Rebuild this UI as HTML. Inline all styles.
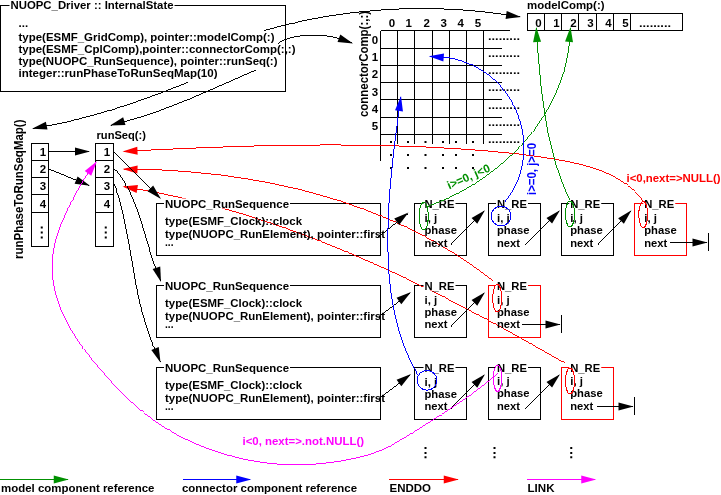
<!DOCTYPE html>
<html><head><meta charset="utf-8"><title>NUOPC Driver InternalState</title>
<style>
html,body{margin:0;padding:0;background:#fff;}
body{width:721px;height:495px;overflow:hidden;}
svg{display:block;will-change:transform;font-family:"Liberation Sans",sans-serif;font-weight:bold;font-size:11.5px;}
svg text{stroke:none;white-space:pre;}
</style></head><body>
<svg width="721" height="495" viewBox="0 0 721 495">
<rect x="0" y="0" width="721" height="495" fill="#fff" stroke="none"/>
<g stroke="#000" stroke-width="1">
<rect x="0.5" y="5.5" width="285" height="85.5" fill="none" stroke="#000" shape-rendering="crispEdges"/>
<rect x="9.5" y="-0.5" width="165" height="10" fill="#fff" stroke="none"/>
<text x="10.5" y="9" textLength="163" lengthAdjust="spacingAndGlyphs">NUOPC_Driver :: InternalState</text>
<text x="18.5" y="27">...</text>
<text x="18.5" y="41" textLength="256" lengthAdjust="spacingAndGlyphs">type(ESMF_GridComp), pointer::modelComp(:)</text>
<text x="18.5" y="53" textLength="277" lengthAdjust="spacingAndGlyphs">type(ESMF_CplComp),pointer::connectorComp(:,:)</text>
<text x="18.5" y="65" textLength="259" lengthAdjust="spacingAndGlyphs">type(NUOPC_RunSequence), pointer::runSeq(:)</text>
<text x="18.5" y="77" textLength="199" lengthAdjust="spacingAndGlyphs">integer::runPhaseToRunSeqMap(10)</text>
<line x1="380.5" y1="30.5" x2="380.5" y2="160.5" shape-rendering="crispEdges"/>
<line x1="397.5" y1="30.5" x2="397.5" y2="143.5" shape-rendering="crispEdges"/>
<line x1="414.5" y1="30.5" x2="414.5" y2="143.5" shape-rendering="crispEdges"/>
<line x1="432.5" y1="30.5" x2="432.5" y2="143.5" shape-rendering="crispEdges"/>
<line x1="449.5" y1="30.5" x2="449.5" y2="143.5" shape-rendering="crispEdges"/>
<line x1="466.5" y1="30.5" x2="466.5" y2="143.5" shape-rendering="crispEdges"/>
<line x1="483.5" y1="30.5" x2="483.5" y2="143.5" shape-rendering="crispEdges"/>
<line x1="380.5" y1="30.5" x2="510" y2="30.5" shape-rendering="crispEdges"/>
<line x1="380.5" y1="48.5" x2="502" y2="48.5" shape-rendering="crispEdges"/>
<line x1="380.5" y1="65.5" x2="502" y2="65.5" shape-rendering="crispEdges"/>
<line x1="380.5" y1="82.5" x2="502" y2="82.5" shape-rendering="crispEdges"/>
<line x1="380.5" y1="99.5" x2="502" y2="99.5" shape-rendering="crispEdges"/>
<line x1="380.5" y1="117.5" x2="502" y2="117.5" shape-rendering="crispEdges"/>
<line x1="380.5" y1="134.5" x2="502" y2="134.5" shape-rendering="crispEdges"/>
<text x="392" y="27" text-anchor="middle">0</text>
<text x="408.75" y="27" text-anchor="middle">1</text>
<text x="426.75" y="27" text-anchor="middle">2</text>
<text x="443.75" y="27" text-anchor="middle">3</text>
<text x="460.75" y="27" text-anchor="middle">4</text>
<text x="478" y="27" text-anchor="middle">5</text>
<text x="375" y="43.5" text-anchor="middle">0</text>
<text x="375" y="61" text-anchor="middle">1</text>
<text x="375" y="78" text-anchor="middle">2</text>
<text x="375" y="96" text-anchor="middle">3</text>
<text x="375" y="113" text-anchor="middle">4</text>
<text x="375" y="130" text-anchor="middle">5</text>
<text x="488" y="39.5" textLength="32" lengthAdjust="spacingAndGlyphs">.........</text>
<text x="488" y="56.5" textLength="32" lengthAdjust="spacingAndGlyphs">.........</text>
<text x="488" y="73.5" textLength="32" lengthAdjust="spacingAndGlyphs">.........</text>
<text x="488" y="90.5" textLength="32" lengthAdjust="spacingAndGlyphs">.........</text>
<text x="488" y="108.5" textLength="32" lengthAdjust="spacingAndGlyphs">.........</text>
<text x="488" y="126" textLength="32" lengthAdjust="spacingAndGlyphs">.........</text>
<text x="488" y="143" textLength="32" lengthAdjust="spacingAndGlyphs">.........</text>
<rect x="390" y="141" width="2" height="2" fill="#000" stroke="none"/>
<rect x="407" y="141" width="2" height="2" fill="#000" stroke="none"/>
<rect x="424.5" y="141" width="2" height="2" fill="#000" stroke="none"/>
<rect x="442" y="141" width="2" height="2" fill="#000" stroke="none"/>
<rect x="455" y="141" width="2" height="2" fill="#000" stroke="none"/>
<rect x="472" y="141" width="2" height="2" fill="#000" stroke="none"/>
<rect x="390" y="154" width="2" height="2" fill="#000" stroke="none"/>
<rect x="407" y="154" width="2" height="2" fill="#000" stroke="none"/>
<rect x="424.5" y="154" width="2" height="2" fill="#000" stroke="none"/>
<rect x="442" y="154" width="2" height="2" fill="#000" stroke="none"/>
<rect x="455" y="154" width="2" height="2" fill="#000" stroke="none"/>
<rect x="472" y="154" width="2" height="2" fill="#000" stroke="none"/>
<rect x="390" y="167" width="2" height="2" fill="#000" stroke="none"/>
<rect x="407" y="167" width="2" height="2" fill="#000" stroke="none"/>
<rect x="424.5" y="167" width="2" height="2" fill="#000" stroke="none"/>
<rect x="442" y="167" width="2" height="2" fill="#000" stroke="none"/>
<rect x="455" y="167" width="2" height="2" fill="#000" stroke="none"/>
<rect x="472" y="167" width="2" height="2" fill="#000" stroke="none"/>
<text x="368" y="117" textLength="106" lengthAdjust="spacingAndGlyphs" transform="rotate(-90 368 117)" font-size="12">connectorComp(:,:)</text>
<text x="527" y="9" textLength="77.5" lengthAdjust="spacingAndGlyphs">modelComp(:)</text>
<rect x="527.5" y="13.5" width="155" height="17" fill="none" stroke="#000" shape-rendering="crispEdges"/>
<line x1="544.5" y1="13.5" x2="544.5" y2="30.5" shape-rendering="crispEdges"/>
<line x1="561.5" y1="13.5" x2="561.5" y2="30.5" shape-rendering="crispEdges"/>
<line x1="578.5" y1="13.5" x2="578.5" y2="30.5" shape-rendering="crispEdges"/>
<line x1="596.5" y1="13.5" x2="596.5" y2="30.5" shape-rendering="crispEdges"/>
<line x1="613.5" y1="13.5" x2="613.5" y2="30.5" shape-rendering="crispEdges"/>
<line x1="630.5" y1="13.5" x2="630.5" y2="30.5" shape-rendering="crispEdges"/>
<text x="538.5" y="27" text-anchor="middle">0</text>
<text x="556.5" y="27" text-anchor="middle">1</text>
<text x="573.5" y="27" text-anchor="middle">2</text>
<text x="590.5" y="27" text-anchor="middle">3</text>
<text x="608.5" y="27" text-anchor="middle">4</text>
<text x="625.5" y="27" text-anchor="middle">5</text>
<text x="639" y="27" textLength="32" lengthAdjust="spacingAndGlyphs">.........</text>
<path d="M264.0 30.5L266.9 29.8L269.9 29.0L272.8 28.2L275.8 27.4L278.7 26.6L281.6 25.9L284.6 25.1L287.6 24.4L290.5 23.7L293.5 23.0L296.4 22.3L299.4 21.7L302.4 21.0L305.4 20.4L308.4 19.8L311.3 19.2L314.3 18.6L317.3 18.1L320.3 17.5L323.3 17.0L326.3 16.5L329.3 16.0L332.3 15.5L335.3 15.1L338.3 14.6L341.3 14.2L344.3 13.8L347.3 13.4L350.4 13.0L353.4 12.6L356.4 12.3L359.4 11.9L362.4 11.6L365.5 11.3L368.5 11.0L371.5 10.8L374.6 10.5L377.6 10.3L380.6 10.0L383.6 9.8L386.7 9.7L389.7 9.5L392.8 9.3L395.8 9.2L398.8 9.0L401.9 8.9L404.9 8.8L407.9 8.8L411.0 8.7L414.0 8.7L417.1 8.6L420.1 8.6L423.1 8.6L426.2 8.6L429.2 8.7L432.3 8.7L435.3 8.8L438.3 8.8L441.4 8.9L444.4 9.0L447.5 9.2L450.5 9.3L453.5 9.5L456.6 9.6L459.6 9.8L462.6 10.0L465.7 10.3L468.7 10.5L471.7 10.8L474.8 11.0L477.8 11.3L480.8 11.6L483.9 11.9L486.9 12.2L489.9 12.6L492.9 13.0L495.9 13.3L499.0 13.7L502.0 14.1L505.0 14.6L508.0 15.0L511.0 15.5L514.0 15.9L517.0 16.4L520.0 16.9" fill="none" stroke-width="0.99" shape-rendering="crispEdges"/>
<polygon points="521.00,17.00 505.59,18.90 506.69,10.98" fill="#000" stroke="none"/>
<path d="M277.5 43.5L280.3 41.8L283.2 40.5L286.2 39.3L289.2 38.2L292.2 37.4L295.4 36.6L298.5 36.1L301.7 35.6L304.9 35.3L308.1 35.1L311.4 35.0L314.6 35.0L317.8 35.1L321.1 35.3L324.3 35.6L327.5 36.1L330.7 36.6L333.8 37.2L336.9 37.9L340.0 38.7L343.1 39.7L346.1 40.7L349.1 41.8L352.1 43.2" fill="none" stroke-width="0.99" shape-rendering="crispEdges"/>
<polygon points="353.00,43.50 337.54,42.04 340.32,34.54" fill="#000" stroke="none"/>
<path d="M256.0 70.0L253.1 71.2L250.3 72.4L247.4 73.7L244.6 74.9L241.7 76.2L238.9 77.4L236.0 78.7L233.2 79.9L230.3 81.2L227.5 82.4L224.6 83.7L221.8 84.9L219.0 86.2L216.1 87.4L213.3 88.7L210.4 89.9L207.6 91.2L204.7 92.4L201.9 93.7L199.0 94.9L196.1 96.1L193.3 97.3L190.4 98.5L187.5 99.7L184.7 100.9L181.8 102.1L178.9 103.2L176.0 104.4L173.1 105.5L170.2 106.6L167.3 107.7L164.4 108.8L161.5 109.9L158.6 111.0L155.7 112.0L152.8 113.0L149.8 114.0L146.9 115.0L143.9 116.0L141.0 116.9L138.0 117.8L135.0 118.7L132.0 119.6L129.0 120.4L126.0 121.2L123.0 122.0L120.0 122.8L116.9 123.5L113.9 124.2L111.0 125.2" fill="none" stroke-width="0.99" shape-rendering="crispEdges"/>
<polygon points="110.00,125.50 123.15,117.25 125.51,124.89" fill="#000" stroke="none"/>
<path d="M187.5 82.5L184.6 83.6L181.7 84.8L178.8 85.9L175.9 87.1L173.0 88.2L170.2 89.3L167.3 90.5L164.4 91.6L161.4 92.7L158.5 93.8L155.6 94.9L152.7 95.9L149.8 97.0L146.9 98.0L143.9 99.1L141.0 100.1L138.1 101.1L135.1 102.2L132.2 103.2L129.3 104.1L126.3 105.1L123.4 106.1L120.4 107.0L117.4 108.0L114.5 108.9L111.5 109.8L108.5 110.7L105.6 111.6L102.6 112.5L99.6 113.3L96.6 114.2L93.6 115.0L90.6 115.8L87.6 116.7L84.6 117.4L81.6 118.2L78.6 119.0L75.6 119.7L72.6 120.4L69.5 121.2L66.5 121.8L63.5 122.5L60.5 123.2L57.4 123.8L54.4 124.5L51.3 125.1L48.3 125.7L45.2 126.2L42.1 126.8L39.1 127.3L36.0 127.9L33.0 128.5" fill="none" stroke-width="0.99" shape-rendering="crispEdges"/>
<polygon points="32.00,128.75 45.86,121.76 47.50,129.59" fill="#000" stroke="none"/>
<text x="22.5" y="259" textLength="139.5" lengthAdjust="spacingAndGlyphs" transform="rotate(-90 22.5 259)" font-size="12">runPhaseToRunSeqMap()</text>
<rect x="31.5" y="143.5" width="17" height="103" fill="none" stroke="#000" shape-rendering="crispEdges"/>
<line x1="31.5" y1="160.5" x2="48.5" y2="160.5" shape-rendering="crispEdges"/>
<line x1="31.5" y1="177.5" x2="48.5" y2="177.5" shape-rendering="crispEdges"/>
<line x1="31.5" y1="194.5" x2="48.5" y2="194.5" shape-rendering="crispEdges"/>
<line x1="31.5" y1="212.5" x2="48.5" y2="212.5" shape-rendering="crispEdges"/>
<text x="43.0" y="156" text-anchor="middle">1</text>
<text x="43.0" y="173" text-anchor="middle">2</text>
<text x="43.0" y="190" text-anchor="middle">3</text>
<text x="43.0" y="207.5" text-anchor="middle">4</text>
<rect x="40.75" y="226.5" width="2" height="2" fill="#000" stroke="none"/>
<rect x="40.75" y="231.5" width="2" height="2" fill="#000" stroke="none"/>
<rect x="40.75" y="236.5" width="2" height="2" fill="#000" stroke="none"/>
<rect x="95.5" y="143.5" width="18" height="103" fill="none" stroke="#000" shape-rendering="crispEdges"/>
<line x1="95.5" y1="160.5" x2="113.5" y2="160.5" shape-rendering="crispEdges"/>
<line x1="95.5" y1="177.5" x2="113.5" y2="177.5" shape-rendering="crispEdges"/>
<line x1="95.5" y1="194.5" x2="113.5" y2="194.5" shape-rendering="crispEdges"/>
<line x1="95.5" y1="212.5" x2="113.5" y2="212.5" shape-rendering="crispEdges"/>
<text x="107.0" y="156" text-anchor="middle">1</text>
<text x="107.0" y="173" text-anchor="middle">2</text>
<text x="107.0" y="190" text-anchor="middle">3</text>
<text x="107.0" y="207.5" text-anchor="middle">4</text>
<rect x="104.75" y="226.5" width="2" height="2" fill="#000" stroke="none"/>
<rect x="104.75" y="231.5" width="2" height="2" fill="#000" stroke="none"/>
<rect x="104.75" y="236.5" width="2" height="2" fill="#000" stroke="none"/>
<text x="96.5" y="139" textLength="49.5" lengthAdjust="spacingAndGlyphs">runSeq(:)</text>
<path d="M48.75 151.5L89.0 151.5" fill="none" stroke-width="0.99" shape-rendering="crispEdges"/>
<polygon points="90.00,151.50 75.00,155.50 75.00,147.50" fill="#000" stroke="none"/>
<path d="M48.75 169L89.07347224555177 185.37377357849678" fill="none" stroke-width="0.99" shape-rendering="crispEdges"/>
<polygon points="90.00,185.75 74.60,183.81 77.61,176.40" fill="#000" stroke="none"/>
<rect x="156.5" y="203.5" width="224" height="52" fill="none" stroke="#000" shape-rendering="crispEdges"/>
<rect x="414.5" y="203.5" width="52" height="52" fill="none" stroke="#000" shape-rendering="crispEdges"/>
<rect x="488.5" y="203.5" width="52" height="52" fill="none" stroke="#000" shape-rendering="crispEdges"/>
<rect x="561.5" y="203.5" width="52" height="52" fill="none" stroke="#000" shape-rendering="crispEdges"/>
<rect x="634.5" y="203.5" width="52" height="52" fill="none" stroke="#ff0000" shape-rendering="crispEdges"/>
<rect x="156.5" y="285.5" width="224" height="52" fill="none" stroke="#000" shape-rendering="crispEdges"/>
<rect x="414.5" y="285.5" width="52" height="52" fill="none" stroke="#000" shape-rendering="crispEdges"/>
<rect x="488.5" y="285.5" width="52" height="52" fill="none" stroke="#ff0000" shape-rendering="crispEdges"/>
<rect x="156.5" y="367.5" width="224" height="52" fill="none" stroke="#000" shape-rendering="crispEdges"/>
<rect x="414.5" y="367.5" width="52" height="52" fill="none" stroke="#000" shape-rendering="crispEdges"/>
<rect x="488.5" y="367.5" width="52" height="52" fill="none" stroke="#000" shape-rendering="crispEdges"/>
<rect x="561.5" y="367.5" width="52" height="52" fill="none" stroke="#ff0000" shape-rendering="crispEdges"/>
<path d="M642.5 201.5L641.1 198.4L639.0 196.0L636.9 193.7L634.8 191.6L632.5 189.5L630.2 187.5L627.9 185.6L625.5 183.9L623.1 182.2L620.6 180.5L618.1 179.0L615.6 177.5L613.0 176.1L610.4 174.8L607.7 173.6L605.0 172.4L602.2 171.3L599.5 170.2L596.7 169.2L593.9 168.2L591.0 167.3L588.2 166.5L585.3 165.7L582.4 164.9L579.4 164.2L576.5 163.5L573.6 162.8L570.6 162.2L567.6 161.6L564.6 161.0L561.7 160.4L558.7 159.9L555.7 159.3L552.7 158.8L549.7 158.3L546.7 157.9L543.7 157.4L540.7 156.9L537.7 156.5L534.6 156.1L531.6 155.7L528.6 155.3L525.6 154.9L522.6 154.5L519.6 154.2L516.5 153.8L513.5 153.5L510.5 153.2L507.5 152.9L504.5 152.5L501.4 152.2L498.4 152.0L495.4 151.7L492.3 151.4L489.3 151.1L486.3 150.9L483.3 150.6L480.2 150.4L477.2 150.2L474.2 149.9L471.2 149.7L468.1 149.5L465.1 149.3L462.1 149.1L459.0 148.9L456.0 148.7L453.0 148.5L450.0 148.3L446.9 148.1L443.9 148.0L440.9 147.8L437.9 147.6L434.9 147.5L431.8 147.3L428.8 147.2L425.8 147.0L422.8 146.9L419.7 146.7L416.7 146.6L413.7 146.5L410.7 146.4L407.6 146.3L404.6 146.2L401.6 146.1L398.6 146.0L395.6 145.9L392.5 145.8L389.5 145.7L386.5 145.6L383.5 145.5L380.5 145.5L377.4 145.4L374.4 145.3L371.4 145.3L368.4 145.2L365.4 145.2L362.3 145.1L359.3 145.1L356.3 145.1L353.3 145.0L350.3 145.0L347.2 145.0L344.2 145.0L341.2 145.0L338.2 144.9L335.2 144.9L332.1 144.9L329.1 144.9L326.1 144.9L323.1 144.9L320.1 145.0L317.0 145.0L314.0 145.0L311.0 145.0L308.0 145.0L305.0 145.1L301.9 145.1L298.9 145.1L295.9 145.2L292.9 145.2L289.9 145.3L286.8 145.3L283.8 145.4L280.8 145.4L277.8 145.5L274.8 145.5L271.7 145.6L268.7 145.7L265.7 145.7L262.7 145.8L259.7 145.9L256.6 145.9L253.6 146.0L250.6 146.1L247.6 146.2L244.5 146.3L241.5 146.4L238.5 146.5L235.5 146.6L232.5 146.7L229.4 146.8L226.4 146.9L223.4 147.0L220.4 147.1L217.3 147.2L214.3 147.3L211.3 147.4L208.3 147.5L205.2 147.6L202.2 147.8L199.2 147.9L196.2 148.0L193.1 148.1L190.1 148.3L187.1 148.4L184.0 148.5L181.0 148.6L178.0 148.8L175.0 148.9L171.9 149.1L168.9 149.2L165.9 149.3L162.8 149.5L159.8 149.6L156.8 149.8L153.8 149.9L150.7 150.0L147.7 150.2L144.7 150.3L141.6 150.5L138.6 150.6L135.6 150.8L132.5 150.9L129.5 151.1L126.5 151.3L123.5 151.4" fill="none" stroke="#ff0000" stroke-width="0.99" shape-rendering="crispEdges"/>
<polygon points="122.50,151.50 137.27,146.72 137.69,154.71" fill="#ff0000" stroke="none"/>
<path d="M492.5 280.5L490.1 278.6L487.7 276.7L485.3 274.9L482.8 273.0L480.3 271.2L477.9 269.4L475.4 267.7L472.9 265.9L470.4 264.2L467.8 262.4L465.3 260.7L462.8 259.0L460.2 257.4L457.7 255.7L455.1 254.1L452.5 252.5L449.9 250.9L447.3 249.3L444.7 247.8L442.1 246.2L439.5 244.7L436.8 243.2L434.2 241.7L431.5 240.2L428.9 238.8L426.2 237.3L423.5 235.9L420.8 234.5L418.1 233.1L415.4 231.7L412.7 230.4L410.0 229.0L407.2 227.7L404.5 226.4L401.7 225.1L399.0 223.9L396.2 222.6L393.5 221.4L390.7 220.2L387.9 219.0L385.1 217.8L382.3 216.6L379.5 215.4L376.7 214.3L373.9 213.2L371.0 212.1L368.2 211.0L365.4 209.9L362.5 208.8L359.7 207.8L356.8 206.8L353.9 205.8L351.1 204.8L348.2 203.8L345.3 202.8L342.4 201.9L339.5 200.9L336.6 200.0L333.7 199.1L330.8 198.2L327.9 197.3L325.0 196.5L322.1 195.6L319.1 194.8L316.2 194.0L313.3 193.2L310.3 192.4L307.4 191.6L304.4 190.8L301.5 190.1L298.5 189.4L295.5 188.6L292.6 187.9L289.6 187.3L286.6 186.6L283.6 185.9L280.7 185.3L277.7 184.6L274.7 184.0L271.7 183.4L268.7 182.8L265.7 182.2L262.7 181.7L259.7 181.1L256.7 180.6L253.7 180.1L250.7 179.5L247.7 179.0L244.7 178.6L241.6 178.1L238.6 177.6L235.6 177.2L232.6 176.7L229.6 176.3L226.5 175.9L223.5 175.5L220.5 175.1L217.5 174.7L214.4 174.4L211.4 174.0L208.4 173.7L205.3 173.4L202.3 173.1L199.3 172.8L196.2 172.5L193.2 172.2L190.2 171.9L187.1 171.7L184.1 171.4L181.1 171.2L178.0 171.0L175.0 170.8L172.0 170.6L168.9 170.4L165.9 170.2L162.9 170.1L159.9 169.9L156.8 169.8L153.8 169.7L150.8 169.5L147.7 169.4L144.7 169.3L141.7 169.2L138.7 169.2L135.7 169.1L132.6 169.1L129.6 169.0L126.6 169.0L123.5 169.0" fill="none" stroke="#ff0000" stroke-width="0.99" shape-rendering="crispEdges"/>
<polygon points="122.50,169.00 137.63,165.52 137.35,173.52" fill="#ff0000" stroke="none"/>
<path d="M565.0 362.5L562.0 361.5L559.4 360.0L556.8 358.5L554.2 357.0L551.6 355.5L548.9 354.0L546.3 352.5L543.7 351.0L541.1 349.6L538.4 348.1L535.8 346.6L533.2 345.1L530.5 343.6L527.9 342.1L525.3 340.7L522.6 339.2L520.0 337.7L517.3 336.3L514.7 334.8L512.1 333.3L509.4 331.9L506.8 330.4L504.1 329.0L501.5 327.5L498.8 326.1L496.1 324.6L493.5 323.2L490.8 321.7L488.1 320.3L485.5 318.9L482.8 317.4L480.1 316.0L477.5 314.6L474.8 313.2L472.1 311.8L469.4 310.4L466.8 309.0L464.1 307.5L461.4 306.2L458.7 304.8L456.0 303.4L453.3 302.0L450.6 300.6L447.9 299.2L445.2 297.8L442.5 296.5L439.8 295.1L437.1 293.8L434.4 292.4L431.7 291.0L429.0 289.7L426.3 288.4L423.6 287.0L420.8 285.7L418.1 284.4L415.4 283.0L412.7 281.7L409.9 280.4L407.2 279.1L404.5 277.8L401.7 276.5L399.0 275.2L396.3 273.9L393.5 272.7L390.8 271.4L388.0 270.1L385.3 268.9L382.5 267.6L379.8 266.4L377.0 265.1L374.2 263.9L371.5 262.6L368.7 261.4L365.9 260.2L363.2 259.0L360.4 257.8L357.6 256.6L354.8 255.4L352.1 254.2L349.3 253.0L346.5 251.8L343.7 250.7L340.9 249.5L338.1 248.4L335.3 247.2L332.5 246.1L329.7 245.0L326.9 243.8L324.1 242.7L321.3 241.6L318.5 240.5L315.7 239.4L312.9 238.3L310.0 237.2L307.2 236.2L304.4 235.1L301.6 234.0L298.7 233.0L295.9 232.0L293.0 230.9L290.2 229.9L287.4 228.9L284.5 227.9L281.7 226.9L278.8 225.9L276.0 224.9L273.1 223.9L270.2 222.9L267.4 222.0L264.5 221.0L261.6 220.1L258.8 219.2L255.9 218.2L253.0 217.3L250.1 216.4L247.3 215.5L244.4 214.6L241.5 213.8L238.6 212.9L235.7 212.0L232.8 211.2L229.9 210.3L227.0 209.5L224.1 208.7L221.2 207.9L218.2 207.1L215.3 206.3L212.4 205.5L209.5 204.7L206.6 203.9L203.6 203.2L200.7 202.5L197.8 201.7L194.8 201.0L191.9 200.3L188.9 199.6L186.0 198.9L183.0 198.2L180.1 197.5L177.1 196.9L174.1 196.2L171.2 195.6L168.2 195.0L165.2 194.3L162.3 193.7L159.3 193.1L156.3 192.6L153.3 192.0L150.3 191.4L147.3 190.9L144.3 190.3L141.3 189.8L138.3 189.3L135.3 188.8L132.3 188.3L129.3 187.8L126.3 187.3L123.5 186.7" fill="none" stroke="#ff0000" stroke-width="0.99" shape-rendering="crispEdges"/>
<polygon points="122.50,186.50 137.95,185.02 136.64,192.91" fill="#ff0000" stroke="none"/>
<path d="M113.75 152.25L160.2891420687339 198.29666437488487" fill="none" stroke-width="0.99" shape-rendering="crispEdges"/>
<polygon points="161.00,199.00 147.52,191.29 153.15,185.61" fill="#000" stroke="none"/>
<path d="M113.8 169.0L116.5 170.8L118.5 173.2L120.3 175.7L122.1 178.2L123.8 180.8L125.4 183.5L126.9 186.2L128.3 189.0L129.7 191.8L131.0 194.6L132.3 197.4L133.5 200.3L134.6 203.2L135.8 206.2L136.9 209.1L137.9 212.1L138.9 215.1L140.0 218.1L140.9 221.1L141.9 224.1L142.8 227.2L143.8 230.2L144.7 233.3L145.6 236.3L146.5 239.4L147.5 242.4L148.4 245.4L149.3 248.5L150.2 251.5L151.2 254.5L152.2 257.5L153.2 260.5L154.2 263.5L155.2 266.4L156.3 269.4L157.4 272.3L158.6 275.2L159.8 278.0L160.7 281.0" fill="none" stroke-width="0.99" shape-rendering="crispEdges"/>
<polygon points="161.00,282.00 152.62,268.93 160.24,266.49" fill="#000" stroke="none"/>
<path d="M113.8 184.0L115.5 186.6L116.4 189.5L117.3 192.5L118.2 195.4L119.0 198.3L119.8 201.3L120.6 204.2L121.3 207.2L122.0 210.2L122.7 213.1L123.4 216.1L124.1 219.1L124.7 222.1L125.3 225.1L125.9 228.1L126.5 231.1L127.1 234.1L127.7 237.1L128.2 240.2L128.8 243.2L129.3 246.2L129.8 249.2L130.4 252.2L130.9 255.3L131.4 258.3L132.0 261.3L132.5 264.4L133.0 267.4L133.6 270.4L134.1 273.4L134.7 276.5L135.2 279.5L135.8 282.5L136.4 285.5L137.0 288.5L137.6 291.5L138.2 294.5L138.9 297.5L139.6 300.5L140.2 303.5L141.0 306.5L141.7 309.5L142.5 312.4L143.2 315.4L144.1 318.3L144.9 321.3L145.8 324.2L146.7 327.2L147.6 330.1L148.6 333.0L149.6 335.9L150.7 338.8L151.7 341.7L152.9 344.5L154.0 347.4L155.3 350.2L156.5 353.1L157.8 355.9L159.2 358.7L160.1 361.6" fill="none" stroke-width="0.99" shape-rendering="crispEdges"/>
<polygon points="160.50,362.50 151.32,349.98 158.77,347.07" fill="#000" stroke="none"/>
<rect x="164" y="198.5" width="126" height="10" fill="#fff" stroke="none"/>
<text x="165" y="208.0" textLength="124" lengthAdjust="spacingAndGlyphs">NUOPC_RunSequence</text>
<text x="165" y="225.0" textLength="137" lengthAdjust="spacingAndGlyphs">type(ESMF_Clock)::clock</text>
<text x="165" y="238.0" textLength="220" lengthAdjust="spacingAndGlyphs">type(NUOPC_RunElement), pointer::first</text>
<text x="165" y="246.0" textLength="8.5" lengthAdjust="spacingAndGlyphs" font-size="10">...</text>
<rect x="423.5" y="198.5" width="32" height="10" fill="#fff" stroke="none"/>
<text x="424.5" y="208.0" textLength="30" lengthAdjust="spacingAndGlyphs">N_RE</text>
<text x="424.5" y="222.0">i, j</text>
<text x="424.5" y="234.0" textLength="32.5" lengthAdjust="spacingAndGlyphs">phase</text>
<text x="424.5" y="247.0" textLength="23" lengthAdjust="spacingAndGlyphs">next</text>
<path d="M376.5 237.5L407.71197562627543 213.1156440419723" fill="none" stroke-width="0.99" shape-rendering="crispEdges"/>
<polygon points="408.50,212.50 399.14,224.89 394.22,218.58" fill="#000" stroke="none"/>
<rect x="496" y="198.5" width="32" height="10" fill="#fff" stroke="none"/>
<text x="497" y="208.0" textLength="30" lengthAdjust="spacingAndGlyphs">N_RE</text>
<text x="497" y="222.0">i, j</text>
<text x="497" y="234.0" textLength="32.5" lengthAdjust="spacingAndGlyphs">phase</text>
<text x="497" y="247.0" textLength="23" lengthAdjust="spacingAndGlyphs">next</text>
<path d="M451.0 244.5L484.2954880799553 210.95969215475088" fill="none" stroke-width="0.99" shape-rendering="crispEdges"/>
<polygon points="485.00,210.25 477.27,223.71 471.59,218.08" fill="#000" stroke="none"/>
<rect x="569.25" y="198.5" width="32" height="10" fill="#fff" stroke="none"/>
<text x="570.25" y="208.0" textLength="30" lengthAdjust="spacingAndGlyphs">N_RE</text>
<text x="570.25" y="222.0">i, j</text>
<text x="570.25" y="234.0" textLength="32.5" lengthAdjust="spacingAndGlyphs">phase</text>
<text x="570.25" y="247.0" textLength="23" lengthAdjust="spacingAndGlyphs">next</text>
<path d="M525.0 244.5L559.285276938454 210.94940756736997" fill="none" stroke-width="0.99" shape-rendering="crispEdges"/>
<polygon points="560.00,210.25 552.08,223.60 546.48,217.88" fill="#000" stroke="none"/>
<rect x="643.25" y="198.5" width="32" height="10" fill="#fff" stroke="none"/>
<text x="644.25" y="208.0" textLength="30" lengthAdjust="spacingAndGlyphs">N_RE</text>
<text x="644.25" y="222.0">i, j</text>
<text x="644.25" y="234.0" textLength="32.5" lengthAdjust="spacingAndGlyphs">phase</text>
<text x="644.25" y="247.0" textLength="23" lengthAdjust="spacingAndGlyphs">next</text>
<path d="M598.0 244.5L630.8007638126173 210.9648907288912" fill="none" stroke-width="0.99" shape-rendering="crispEdges"/>
<polygon points="631.50,210.25 623.87,223.77 618.15,218.18" fill="#000" stroke="none"/>
<path d="M669.5 242.5L706.5 242.5" fill="none" stroke-width="0.99" shape-rendering="crispEdges"/>
<polygon points="707.50,242.50 692.50,246.50 692.50,238.50" fill="#000" stroke="none"/>
<line x1="708.5" y1="233.0" x2="708.5" y2="251.0" shape-rendering="crispEdges"/>
<rect x="164" y="280.5" width="126" height="10" fill="#fff" stroke="none"/>
<text x="165" y="290.0" textLength="124" lengthAdjust="spacingAndGlyphs">NUOPC_RunSequence</text>
<text x="165" y="307.0" textLength="137" lengthAdjust="spacingAndGlyphs">type(ESMF_Clock)::clock</text>
<text x="165" y="320.0" textLength="220" lengthAdjust="spacingAndGlyphs">type(NUOPC_RunElement), pointer::first</text>
<text x="165" y="328.0" textLength="8.5" lengthAdjust="spacingAndGlyphs" font-size="10">...</text>
<rect x="423.5" y="280.5" width="32" height="10" fill="#fff" stroke="none"/>
<text x="424.5" y="290.0" textLength="30" lengthAdjust="spacingAndGlyphs">N_RE</text>
<text x="424.5" y="304.0">i, j</text>
<text x="424.5" y="316.0" textLength="32.5" lengthAdjust="spacingAndGlyphs">phase</text>
<text x="424.5" y="328.0" textLength="23" lengthAdjust="spacingAndGlyphs">next</text>
<path d="M378.5 316.0L410.19556673303964 292.59404302790915" fill="none" stroke-width="0.99" shape-rendering="crispEdges"/>
<polygon points="411.00,292.00 401.31,304.13 396.56,297.69" fill="#000" stroke="none"/>
<rect x="496" y="280.5" width="32" height="10" fill="#fff" stroke="none"/>
<text x="497" y="290.0" textLength="30" lengthAdjust="spacingAndGlyphs">N_RE</text>
<text x="497" y="304.0">i, j</text>
<text x="497" y="316.0" textLength="32.5" lengthAdjust="spacingAndGlyphs">phase</text>
<text x="497" y="328.0" textLength="23" lengthAdjust="spacingAndGlyphs">next</text>
<path d="M451.0 326.5L484.2954880799553 292.9596921547509" fill="none" stroke-width="0.99" shape-rendering="crispEdges"/>
<polygon points="485.00,292.25 477.27,305.71 471.59,300.08" fill="#000" stroke="none"/>
<path d="M521.5 324.5L559.5 324.5" fill="none" stroke-width="0.99" shape-rendering="crispEdges"/>
<polygon points="560.50,324.50 545.50,328.50 545.50,320.50" fill="#000" stroke="none"/>
<line x1="561.5" y1="315.0" x2="561.5" y2="333.0" shape-rendering="crispEdges"/>
<rect x="164" y="362.5" width="126" height="10" fill="#fff" stroke="none"/>
<text x="165" y="372.0" textLength="124" lengthAdjust="spacingAndGlyphs">NUOPC_RunSequence</text>
<text x="165" y="389.0" textLength="137" lengthAdjust="spacingAndGlyphs">type(ESMF_Clock)::clock</text>
<text x="165" y="402.0" textLength="220" lengthAdjust="spacingAndGlyphs">type(NUOPC_RunElement), pointer::first</text>
<text x="165" y="410.0" textLength="8.5" lengthAdjust="spacingAndGlyphs" font-size="10">...</text>
<rect x="423.5" y="362.5" width="32" height="10" fill="#fff" stroke="none"/>
<text x="424.5" y="372.0" textLength="30" lengthAdjust="spacingAndGlyphs">N_RE</text>
<text x="424.5" y="386.0">i, j</text>
<text x="424.5" y="398.0" textLength="32.5" lengthAdjust="spacingAndGlyphs">phase</text>
<text x="424.5" y="410.0" textLength="23" lengthAdjust="spacingAndGlyphs">next</text>
<path d="M378.5 398.0L410.19556673303964 374.59404302790915" fill="none" stroke-width="0.99" shape-rendering="crispEdges"/>
<polygon points="411.00,374.00 401.31,386.13 396.56,379.69" fill="#000" stroke="none"/>
<rect x="496" y="362.5" width="32" height="10" fill="#fff" stroke="none"/>
<text x="497" y="372.0" textLength="30" lengthAdjust="spacingAndGlyphs">N_RE</text>
<text x="497" y="385.0">i, j</text>
<text x="497" y="397.0" textLength="32.5" lengthAdjust="spacingAndGlyphs">phase</text>
<text x="497" y="410.0" textLength="23" lengthAdjust="spacingAndGlyphs">next</text>
<path d="M451.0 408.5L484.2954880799553 374.9596921547509" fill="none" stroke-width="0.99" shape-rendering="crispEdges"/>
<polygon points="485.00,374.25 477.27,387.71 471.59,382.08" fill="#000" stroke="none"/>
<rect x="569.25" y="362.5" width="32" height="10" fill="#fff" stroke="none"/>
<text x="570.25" y="372.0" textLength="30" lengthAdjust="spacingAndGlyphs">N_RE</text>
<text x="570.25" y="385.0">i, j</text>
<text x="570.25" y="397.0" textLength="32.5" lengthAdjust="spacingAndGlyphs">phase</text>
<text x="570.25" y="410.0" textLength="23" lengthAdjust="spacingAndGlyphs">next</text>
<path d="M525.0 408.5L559.285276938454 374.94940756737" fill="none" stroke-width="0.99" shape-rendering="crispEdges"/>
<polygon points="560.00,374.25 552.08,387.60 546.48,381.88" fill="#000" stroke="none"/>
<path d="M596.5 406.5L632.5 406.5" fill="none" stroke-width="0.99" shape-rendering="crispEdges"/>
<polygon points="633.50,406.50 618.50,410.50 618.50,402.50" fill="#000" stroke="none"/>
<line x1="634.5" y1="397.0" x2="634.5" y2="415.0" shape-rendering="crispEdges"/>
<ellipse cx="423.7" cy="216.2" rx="4.6" ry="13.7" fill="none" stroke="#009000" shape-rendering="crispEdges"/>
<ellipse cx="501" cy="216" rx="9.9" ry="9.9" fill="none" stroke="#0000ff" shape-rendering="crispEdges"/>
<ellipse cx="570" cy="214" rx="4.5" ry="13" fill="none" stroke="#009000" shape-rendering="crispEdges"/>
<ellipse cx="643.25" cy="214.5" rx="4.5" ry="13" fill="none" stroke="#ff0000" shape-rendering="crispEdges"/>
<ellipse cx="497.25" cy="298.25" rx="4.5" ry="13.75" fill="none" stroke="#ff0000" shape-rendering="crispEdges"/>
<ellipse cx="427" cy="380.25" rx="9.9" ry="9.9" fill="none" stroke="#0000ff" shape-rendering="crispEdges"/>
<ellipse cx="497.5" cy="378.3" rx="4.25" ry="13" fill="none" stroke="#ff00ff" shape-rendering="crispEdges"/>
<ellipse cx="570" cy="381" rx="4.5" ry="13" fill="none" stroke="#ff0000" shape-rendering="crispEdges"/>
<path d="M427.0 207.0L429.7 205.6L432.6 204.5L435.4 203.4L438.2 202.3L441.0 201.1L443.8 199.9L446.5 198.7L449.3 197.4L452.1 196.1L454.8 194.7L457.5 193.4L460.2 191.9L462.9 190.5L465.6 189.0L468.2 187.5L470.8 185.9L473.5 184.3L476.0 182.7L478.6 181.0L481.2 179.3L483.7 177.6L486.2 175.9L488.7 174.1L491.1 172.2L493.6 170.4L496.0 168.5L498.4 166.6L500.7 164.6L503.1 162.7L505.4 160.7L507.6 158.6L509.9 156.5L512.1 154.5L514.3 152.3L516.4 150.2L518.5 148.0L520.6 145.8L522.7 143.5L524.7 141.3L526.7 139.0L528.6 136.6L530.5 134.3L532.4 131.9L534.3 129.5L536.1 127.1L537.8 124.6L539.6 122.1L541.2 119.6L542.9 117.1L544.5 114.5L546.0 112.0L547.6 109.3L549.0 106.7L550.5 104.1L551.9 101.4L553.2 98.7L554.5 96.0L555.8 93.2L557.0 90.4L558.1 87.7L559.2 84.8L560.3 82.0L561.3 79.2L562.2 76.3L563.1 73.4L564.0 70.5L564.8 67.5L565.6 64.6L566.2 61.6L566.9 58.6L567.5 55.6L568.0 52.6L568.5 49.5L568.9 46.4L569.3 43.4L569.6 40.2L569.8 37.1L570.0 34.0L570.1 30.8L570.4 28.0" fill="none" stroke="#009000" stroke-width="0.99" shape-rendering="crispEdges"/>
<polygon points="570.50,27.00 573.01,42.32 565.05,41.53" fill="#009000" stroke="none"/>
<path d="M570.0 200.0L568.5 197.2L567.2 194.4L566.0 191.6L564.8 188.7L563.6 185.8L562.5 183.0L561.4 180.1L560.4 177.2L559.3 174.3L558.3 171.3L557.4 168.4L556.5 165.5L555.6 162.5L554.7 159.6L553.9 156.6L553.1 153.6L552.3 150.6L551.5 147.6L550.8 144.6L550.1 141.6L549.4 138.6L548.8 135.6L548.2 132.6L547.6 129.5L547.0 126.5L546.5 123.4L545.9 120.4L545.4 117.3L544.9 114.3L544.4 111.2L544.0 108.1L543.5 105.1L543.1 102.0L542.7 98.9L542.3 95.8L541.9 92.7L541.6 89.7L541.2 86.6L540.9 83.5L540.6 80.4L540.2 77.3L539.9 74.2L539.6 71.1L539.4 68.0L539.1 65.0L538.8 61.9L538.5 58.8L538.3 55.7L538.0 52.6L537.8 49.5L537.5 46.5L537.3 43.4L537.0 40.3L536.8 37.2L536.6 34.2L536.3 31.1L536.3 28.0" fill="none" stroke="#009000" stroke-width="0.99" shape-rendering="crispEdges"/>
<polygon points="536.25,27.00 541.06,41.76 533.07,42.19" fill="#009000" stroke="none"/>
<text x="449.25" y="189.5" transform="rotate(-24 449.25 189.5)" fill="#009000">i&gt;=0, j&lt;0</text>
<path d="M505.0 201.5L506.9 199.2L508.8 196.6L510.6 194.0L512.2 191.4L513.8 188.7L515.2 186.0L516.5 183.2L517.7 180.3L518.8 177.5L519.8 174.6L520.7 171.6L521.4 168.7L522.1 165.7L522.6 162.7L523.1 159.7L523.4 156.6L523.7 153.6L523.8 150.6L523.9 147.5L523.8 144.4L523.6 141.4L523.4 138.3L523.0 135.3L522.6 132.3L522.0 129.3L521.3 126.3L520.6 123.3L519.8 120.4L518.8 117.5L517.8 114.6L516.7 111.8L515.5 109.0L514.2 106.2L512.8 103.5L511.3 100.9L509.8 98.3L508.1 95.7L506.4 93.2L504.6 90.8L502.7 88.5L500.7 86.2L498.7 84.0L496.5 81.8L494.3 79.8L492.0 77.8L489.7 75.9L487.3 74.1L484.8 72.3L482.2 70.7L479.6 69.1L477.0 67.6L474.3 66.2L471.5 64.9L468.7 63.7L465.9 62.5L463.0 61.5L460.1 60.5L457.1 59.7L454.1 58.9L451.1 58.3L448.1 57.7L445.0 57.2L442.0 56.9L438.9 56.6L435.8 56.5L432.6 56.4L429.7 56.3" fill="none" stroke="#0000ff" stroke-width="0.99" shape-rendering="crispEdges"/>
<polygon points="428.75,56.25 444.03,53.49 443.37,61.47" fill="#0000ff" stroke="none"/>
<path d="M418.5 375.0L416.7 372.5L415.2 369.8L413.7 367.1L412.3 364.3L410.9 361.6L409.6 358.8L408.3 356.0L407.1 353.2L405.9 350.4L404.8 347.6L403.7 344.7L402.7 341.9L401.7 339.0L400.7 336.1L399.8 333.2L398.9 330.3L398.1 327.4L397.3 324.5L396.5 321.6L395.8 318.6L395.1 315.7L394.5 312.7L393.9 309.8L393.3 306.8L392.7 303.8L392.2 300.8L391.8 297.8L391.3 294.8L390.9 291.8L390.5 288.8L390.2 285.8L389.8 282.8L389.5 279.7L389.3 276.7L389.0 273.6L388.8 270.6L388.6 267.5L388.4 264.5L388.3 261.4L388.2 258.4L388.1 255.3L388.0 252.3L387.9 249.2L387.9 246.1L387.9 243.1L387.8 240.0L387.9 236.9L387.9 233.9L387.9 230.8L388.0 227.7L388.1 224.7L388.2 221.6L388.3 218.5L388.4 215.5L388.5 212.4L388.7 209.3L388.9 206.3L389.0 203.2L389.2 200.1L389.4 197.1L389.7 194.0L389.9 190.9L390.1 187.9L390.4 184.8L390.6 181.7L390.9 178.7L391.2 175.6L391.5 172.6L391.8 169.5L392.1 166.5L392.4 163.4L392.8 160.4L393.1 157.3L393.4 154.3L393.8 151.3L394.1 148.2L394.5 145.2L394.9 142.2L395.2 139.1L395.6 136.1L396.0 133.1L396.4 130.1L396.8 127.1L397.2 124.1L397.5 121.1L397.9 118.0L398.3 115.1L398.7 112.1L399.1 109.1L399.5 106.1L399.9 103.1L400.3 100.1L400.9 97.0" fill="none" stroke="#0000ff" stroke-width="0.99" shape-rendering="crispEdges"/>
<polygon points="401.00,96.00 402.98,111.40 395.05,110.34" fill="#0000ff" stroke="none"/>
<text x="536.25" y="195" textLength="52" lengthAdjust="spacingAndGlyphs" transform="rotate(-90 536.25 195)" fill="#0000ff" font-size="12">i&gt;=0, j&gt;=0</text>
<path d="M498.0 373.2L495.6 375.1L493.3 377.0L491.0 379.0L488.7 380.9L486.3 382.8L484.0 384.7L481.6 386.5L479.2 388.4L476.8 390.2L474.4 392.0L471.9 393.7L469.5 395.5L467.1 397.2L464.6 399.0L462.1 400.7L459.6 402.4L457.1 404.1L454.6 405.8L452.1 407.4L449.6 409.1L447.1 410.8L444.6 412.4L442.1 414.0L439.5 415.7L437.0 417.3L434.4 418.9L431.9 420.6L429.4 422.2L426.8 423.8L424.3 425.4L421.7 427.0L419.2 428.6L416.6 430.2L414.0 431.8L411.5 433.4L408.9 434.9L406.4 436.5L403.8 438.0L401.3 439.5L398.7 441.0L396.2 442.5L393.6 444.0L391.1 445.4L388.5 446.8L385.8 448.1L383.2 449.3L380.5 450.4L377.7 451.5L375.0 452.6L372.2 453.5L369.4 454.4L366.5 455.3L363.6 456.1L360.8 456.8L357.9 457.6L354.9 458.2L352.0 458.9L349.0 459.4L346.1 460.0L343.1 460.6L340.2 461.1L337.2 461.5L334.2 462.0L331.2 462.4L328.2 462.8L325.2 463.1L322.2 463.4L319.2 463.7L316.1 464.0L313.1 464.2L310.1 464.4L307.1 464.5L304.1 464.6L301.0 464.7L298.0 464.7L295.0 464.7L292.0 464.7L288.9 464.6L285.9 464.5L282.9 464.4L279.9 464.2L276.9 464.0L273.9 463.7L270.9 463.4L267.9 463.1L264.9 462.7L261.9 462.3L258.9 461.9L256.0 461.4L253.0 460.9L250.0 460.4L247.1 459.8L244.1 459.2L241.2 458.5L238.2 457.9L235.3 457.1L232.4 456.4L229.5 455.6L226.6 454.8L223.7 453.9L220.8 453.0L217.9 452.1L215.1 451.2L212.2 450.2L209.4 449.2L206.6 448.1L203.7 447.0L200.9 445.9L198.1 444.8L195.4 443.6L192.6 442.4L189.8 441.1L187.1 439.8L184.4 438.5L181.7 437.2L179.0 435.8L176.3 434.4L173.7 432.9L171.1 431.4L168.5 429.9L165.9 428.4L163.3 426.8L160.8 425.1L158.3 423.5L155.8 421.8L153.3 420.1L150.9 418.3L148.5 416.5L146.1 414.6L143.8 412.8L141.5 410.9L139.2 408.9L136.9 407.0L134.6 405.0L132.4 402.9L130.2 400.9L128.0 398.8L125.8 396.7L123.7 394.6L121.6 392.4L119.4 390.3L117.3 388.1L115.3 385.9L113.2 383.7L111.1 381.5L109.1 379.2L107.1 376.9L105.1 374.7L103.1 372.4L101.1 370.1L99.1 367.8L97.2 365.5L95.2 363.2L93.3 360.8L91.4 358.5L89.5 356.1L87.6 353.7L85.8 351.3L84.0 348.9L82.2 346.5L80.4 344.1L78.7 341.6L77.0 339.1L75.4 336.6L73.8 334.1L72.2 331.6L70.7 329.0L69.2 326.4L67.7 323.8L66.4 321.1L65.0 318.4L63.7 315.7L62.5 313.0L61.3 310.2L60.2 307.5L59.1 304.6L58.1 301.8L57.2 298.9L56.3 296.0L55.6 293.0L54.8 290.0L54.2 287.0L53.6 284.0L53.1 280.9L52.7 277.9L52.4 274.9L52.2 271.8L52.1 268.8L52.1 265.8L52.2 262.7L52.4 259.8L52.6 256.8L53.0 253.8L53.5 250.9L54.0 247.9L54.6 245.0L55.3 242.1L56.0 239.2L56.9 236.3L57.8 233.4L58.7 230.6L59.7 227.7L60.8 224.9L61.9 222.1L63.1 219.3L64.3 216.5L65.5 213.8L66.8 211.0L68.1 208.3L69.5 205.6L70.8 202.9L72.2 200.2L73.6 197.5L75.1 194.8L76.5 192.2L78.0 189.6L79.5 186.9L81.0 184.4L82.6 181.8L84.2 179.2L85.8 176.7L87.4 174.2L89.1 171.7L90.8 169.2L92.6 166.8L94.4 164.4L96.3 162.0" fill="none" stroke="#ff00ff" stroke-width="0.99" shape-rendering="crispEdges"/>
<polygon points="96.90,161.20 91.20,175.64 84.77,170.88" fill="#ff00ff" stroke="none"/>
<text x="626.5" y="182" textLength="94" lengthAdjust="spacingAndGlyphs" fill="#ff0000">i&lt;0,next=&gt;NULL()</text>
<text x="242.5" y="445" textLength="121.5" lengthAdjust="spacingAndGlyphs" fill="#ff00ff">i&lt;0, next=&gt;.not.NULL()</text>
<rect x="424.5" y="447" width="2" height="2" fill="#000" stroke="none"/>
<rect x="424.5" y="452" width="2" height="2" fill="#000" stroke="none"/>
<rect x="424.5" y="456.25" width="2" height="2" fill="#000" stroke="none"/>
<rect x="493.5" y="447" width="2" height="2" fill="#000" stroke="none"/>
<rect x="493.5" y="452" width="2" height="2" fill="#000" stroke="none"/>
<rect x="493.5" y="456.25" width="2" height="2" fill="#000" stroke="none"/>
<rect x="570.25" y="447" width="2" height="2" fill="#000" stroke="none"/>
<rect x="570.25" y="452" width="2" height="2" fill="#000" stroke="none"/>
<rect x="570.25" y="456.25" width="2" height="2" fill="#000" stroke="none"/>
<path d="M0 479.5L67.75 479.5" fill="none" stroke="#009000" stroke-width="0.99" shape-rendering="crispEdges"/>
<polygon points="68.75,479.50 53.75,483.50 53.75,475.50" fill="#009000" stroke="none"/>
<text x="1" y="492" textLength="153.5" lengthAdjust="spacingAndGlyphs">model component reference</text>
<path d="M182.5 479.5L250.25 479.5" fill="none" stroke="#0000ff" stroke-width="0.99" shape-rendering="crispEdges"/>
<polygon points="251.25,479.50 236.25,483.50 236.25,475.50" fill="#0000ff" stroke="none"/>
<text x="182" y="492" textLength="175" lengthAdjust="spacingAndGlyphs">connector component reference</text>
<path d="M388.75 479.5L457.75 479.5" fill="none" stroke="#ff0000" stroke-width="0.99" shape-rendering="crispEdges"/>
<polygon points="458.75,479.50 443.75,483.50 443.75,475.50" fill="#ff0000" stroke="none"/>
<text x="389.5" y="492" textLength="41.5" lengthAdjust="spacingAndGlyphs">ENDDO</text>
<path d="M527 479.5L595.25 479.5" fill="none" stroke="#ff00ff" stroke-width="0.99" shape-rendering="crispEdges"/>
<polygon points="596.25,479.50 581.25,483.50 581.25,475.50" fill="#ff00ff" stroke="none"/>
<text x="527.5" y="492" textLength="27" lengthAdjust="spacingAndGlyphs">LINK</text>
</g>
</svg>
</body></html>
